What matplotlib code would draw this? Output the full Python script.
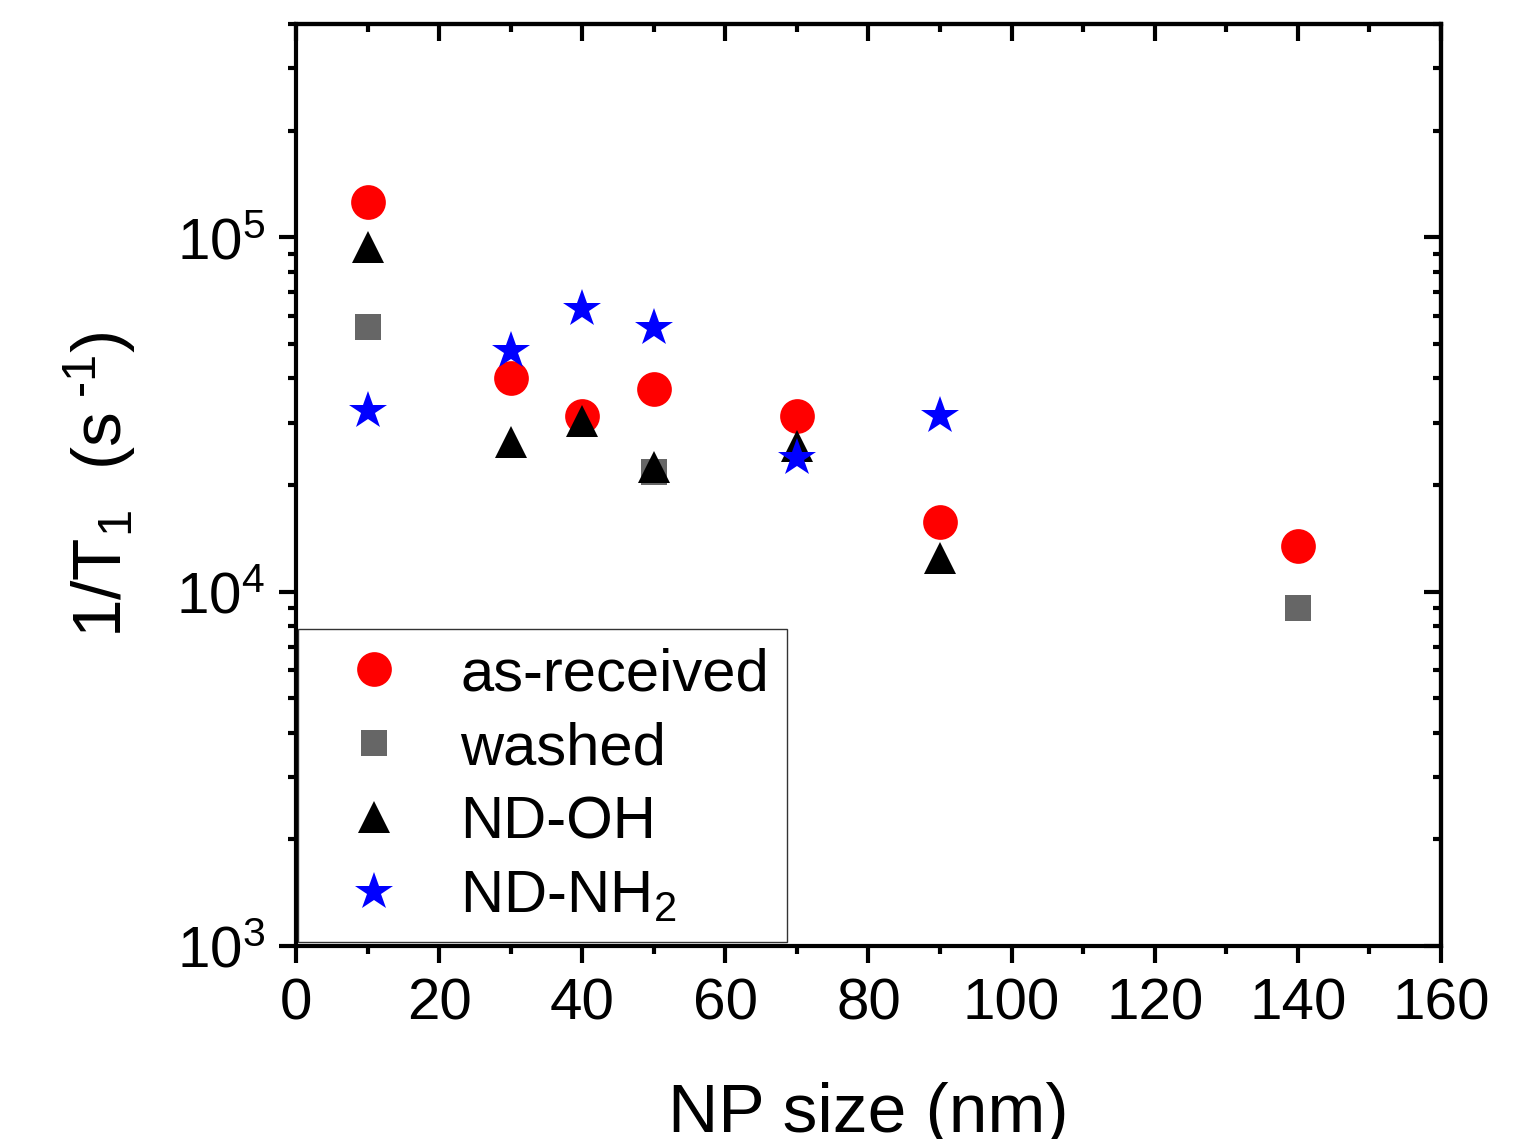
import matplotlib
matplotlib.use('Agg')
import matplotlib.pyplot as plt
import numpy as np

plt.rcParams['font.family'] = ['Liberation Sans', 'DejaVu Sans']
plt.rcParams['mathtext.fontset'] = 'custom'
plt.rcParams['mathtext.rm'] = 'Liberation Sans'
plt.rcParams['mathtext.it'] = 'Liberation Sans'
plt.rcParams['mathtext.default'] = 'regular'

# NP size (nm) and 1/T1 (s^-1) for each surface treatment
size_asrec = [10, 30, 40, 50, 70, 90, 140]
rate_asrec = [1.256e5, 4.01e4, 3.14e4, 3.73e4, 3.14e4, 1.57e4, 1.35e4]

size_washed = [10, 50, 140]
rate_washed = [5.57e4, 2.18e4, 9.02e3]

size_oh = [10, 30, 40, 50, 70, 90]
rate_oh = [9.38e4, 2.64e4, 3.04e4, 2.245e4, 2.585e4, 1.245e4]

size_nh2 = [10, 30, 40, 50, 70, 90]
rate_nh2 = [3.23e4, 4.77e4, 6.26e4, 5.56e4, 2.38e4, 3.14e4]

fig = plt.figure(figsize=(15.31, 11.39), dpi=100)
ax = fig.add_axes([0.1933, 0.1694, 0.9412 - 0.1933, 0.9789 - 0.1694])

ax.plot(size_asrec, rate_asrec, 'o', color='#ff0000', ms=25, mew=0, label='as-received')
ax.plot(size_washed, rate_washed, 's', color='#666666', ms=19, mew=0, label='washed')
ax.plot(size_oh, rate_oh, '^', color='black', ms=23, mew=0, label='ND-OH')
ax.plot(size_nh2, rate_nh2, '*', color='#0000ff', ms=29, mew=0, label='ND-NH$_2$')

ax.set_yscale('log')
ax.set_xlim(0, 160)
ax.set_ylim(1e3, 4e5)
ax.set_xticks(np.arange(0, 161, 20))
ax.set_xticks(np.arange(10, 160, 20), minor=True)

for sp in ax.spines.values():
    sp.set_linewidth(3)

# bottom/left ticks out, mirrored top/right ticks in
ax.tick_params(which='both', width=3, labelsize=42)
ax.tick_params(axis='x', which='major', direction='out', length=12, pad=11)
ax.tick_params(axis='x', which='minor', direction='out', length=6)
ax.tick_params(axis='y', which='major', direction='out', length=12, pad=10)
ax.tick_params(axis='y', which='minor', direction='out', length=6)

axt = ax.secondary_xaxis('top')
axt.set_xticks(np.arange(0, 161, 20))
axt.set_xticks(np.arange(10, 160, 20), minor=True)
axt.tick_params(which='major', direction='in', length=12, width=3, labeltop=False)
axt.tick_params(which='minor', direction='in', length=6, width=3)
axt.spines['top'].set_linewidth(3)

axr = ax.secondary_yaxis('right')
axr.tick_params(which='major', direction='in', length=12, width=3, labelright=False)
axr.tick_params(which='minor', direction='in', length=6, width=3)
axr.spines['right'].set_linewidth(3)

ax.set_xlabel('NP size (nm)', fontsize=50, labelpad=36)
ax.set_ylabel(r'1/T$_1$  (s$^{\ \text{-}1}$)', fontsize=50, labelpad=28)

leg = ax.legend(loc='lower left', bbox_to_anchor=(0.002, 0.004), borderaxespad=0,
                fontsize=43, frameon=True, fancybox=False, edgecolor='black',
                handlelength=1.94, handletextpad=0.47, labelspacing=0.32,
                borderpad=0.3, numpoints=1)
leg.get_frame().set_linewidth(1)

fig.savefig('out.png', dpi=100)
